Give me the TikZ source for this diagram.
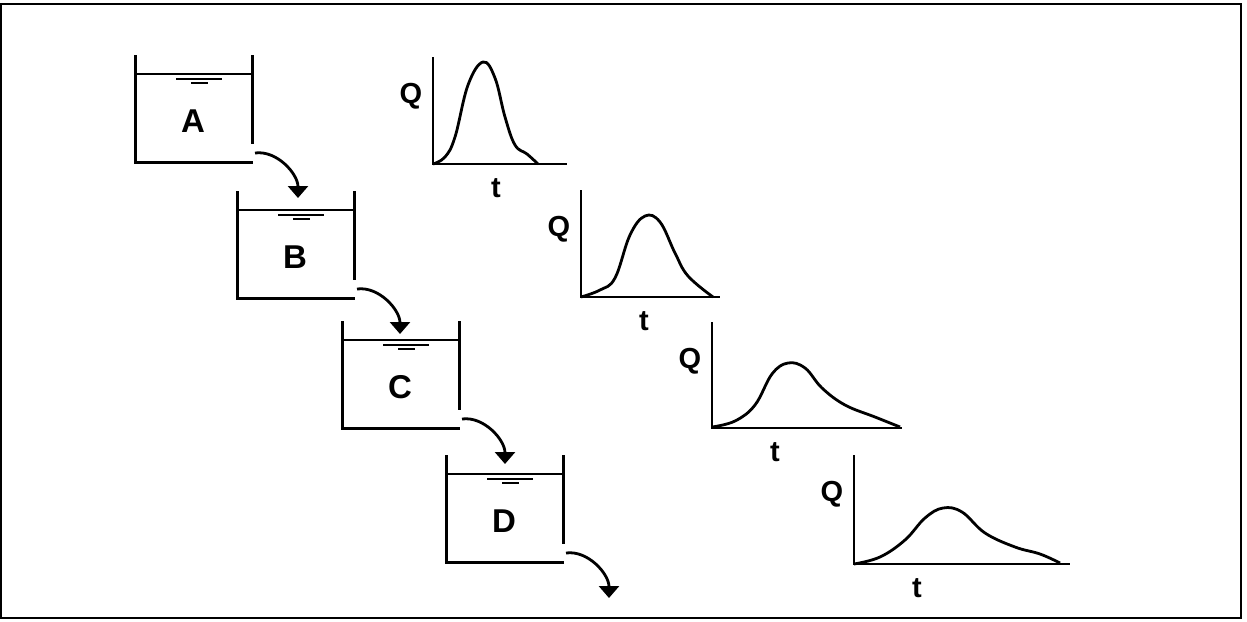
\documentclass[tikz,border=0pt]{standalone}
\usepackage{fontspec}
\setmainfont{Liberation Sans}
\usetikzlibrary{arrows.meta}
\newcommand\drawtank[4]{% #1 x, #2 y, #3 label, #4 name
  \begin{scope}[shift={(#1,#2)}]
    \draw[wall] (0,0) -- (0,107) -- (118,107);
    \draw[wall] (117,0) -- (117,89);
    \draw[water] (0,19) -- (117,19);
    \draw[surf] (41,24) -- (87,24);
    \draw[surf] (56,28) -- (73,28);
    \node[tanklabel] (#4) at (58,66) {#3};
    \coordinate (#4out) at (120,98);
    \coordinate (#4tip) at (163,143);
  \end{scope}}
\newcommand\hydrograph[6]{% #1 name, #2 axis x, #3 axis top, #4 axis y, #5 x end, #6 curve points
  \draw[axis] (#2,#3) -- (#2,#4) -- (#5,#4);
  \draw[hydro] plot coordinates {#6};
  \node[axlabel] (#1Q) at (#2-22,#3+39) {Q};
  \node[axlabel] (#1t) at (#2+63,#4+24) {t};}
\begin{document}
\begin{tikzpicture}[x=0.5pt,y=-0.5pt,
  wall/.style={line width=1.5pt},
  water/.style={line width=0.8pt},
  surf/.style={line width=0.7pt},
  flow/.style={line width=1.4pt,-{Triangle[width=10pt,length=6pt]}},
  axis/.style={line width=1.3pt},
  hydro/.style={line width=1.4pt,smooth,tension=0.65},
  tanklabel/.style={font=\fontsize{16.5}{19}\selectfont\bfseries,inner sep=0pt},
  axlabel/.style={font=\fontsize{14.5}{17}\selectfont\bfseries,inner sep=0pt}]
\useasboundingbox (0,0) rectangle (1247,621);
\draw[line width=1pt] (1,4) rectangle (1241,618);

\drawtank{135}{55}{A}{A}
\drawtank{237}{191}{B}{B}
\drawtank{342}{321}{C}{C}
\drawtank{446}{455}{D}{D}

\foreach \t in {A,B,C,D}
  \draw[flow] (\t out) .. controls +(22,-3) and +(0,-24) .. (\t tip);

\hydrograph{GA}{433}{57}{164}{567}{(433,164) (445,157) (455,137) (468,85) (483,62) (495,78) (505,117) (515,145) (527,154) (538,164)}
\hydrograph{GB}{581}{190}{297}{720}{(581,297) (600,290) (615,278) (630,235) (645,216) (660,222) (675,253) (688,276) (713,297)}
\hydrograph{GC}{712}{322}{428}{902}{(712,427) (735,421) (755,405) (772,374) (788,363) (805,368) (822,388) (845,405) (875,417) (900,427)}
\hydrograph{GD}{854}{455}{564}{1070}{(854,564) (880,557) (905,540) (925,518) (943,508) (962,512) (985,533) (1015,547) (1040,554) (1060,563)}
\end{tikzpicture}
\end{document}
